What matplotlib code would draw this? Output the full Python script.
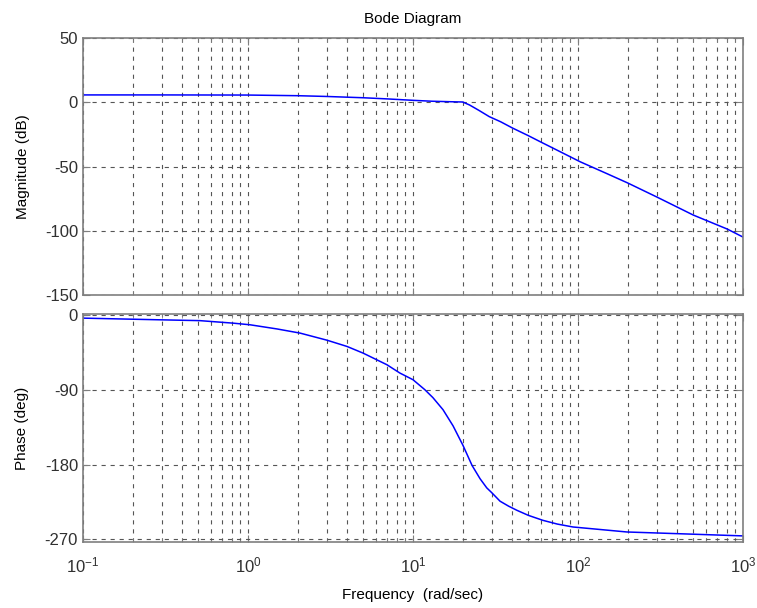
import numpy as np
import matplotlib
matplotlib.use("Agg")
import matplotlib.pyplot as plt
from matplotlib.ticker import LogLocator, NullFormatter, FixedLocator

plt.rcParams["font.family"] = ["Liberation Sans", "DejaVu Sans"]
plt.rcParams["mathtext.fontset"] = "custom"
plt.rcParams["mathtext.rm"] = "Liberation Sans"
plt.rcParams["mathtext.it"] = "Liberation Sans"
plt.rcParams["axes.unicode_minus"] = False
plt.rcParams["lines.scale_dashes"] = False

# Betrag
mag_freq = [0.1, 0.3, 1, 2, 3, 5, 7, 10, 13, 17, 20, 22, 25, 29, 34, 40, 50,
            59, 78, 103, 150, 200, 300, 500, 800, 1000]
mag_db = [5.7, 5.7, 5.6, 5.1, 4.5, 3.5, 2.6, 1.5, 0.8, 0.4, 0.2, -2.1, -6.2,
          -11.2, -15.2, -20.0, -26.0, -30.7, -38.5, -46.3, -55.6, -62.8,
          -73.7, -87.8, -98.6, -104.9]

# Phase
ph_freq = [0.1, 0.29, 0.51, 0.81, 1.03, 1.5, 2.07, 3.01, 3.98, 4.98, 6.95,
           8.33, 10, 11.8, 13.2, 15.2, 17.5, 20.1, 22.8, 25.5, 28, 30.1, 33.7,
           38, 42.7, 50, 61.3, 75, 93.3, 136, 198, 398, 1000]
ph_deg = [-4, -6, -7, -10, -12, -17, -22, -30.5, -38, -46, -60, -70, -78,
          -90, -99.5, -114, -133.5, -157, -181, -197, -208, -214, -224, -230,
          -235, -241, -247, -251.5, -255, -258, -261, -263, -265.7]

mag_ticks = [-150, -100, -50, 0, 50]
ph_ticks = [-270, -180, -90, 0]
x_ticks = [0.1, 1, 10, 100, 1000]
x_labels = ["$10^{-1}$", "$10^{0}$", "$10^{1}$", "$10^{2}$", "$10^{3}$"]

fig = plt.figure(figsize=(7.57, 6.08), dpi=100)
ax1 = fig.add_axes([0.1096, 0.5148, 0.8719, 0.4227])
ax2 = fig.add_axes([0.1096, 0.1086, 0.8719, 0.3750])

frame = "#7f7f7f"
txt = "#303030"

for ax in (ax1, ax2):
    ax.set_xscale("log")
    ax.set_xlim(0.1, 1000)
    ax.xaxis.set_major_locator(FixedLocator(x_ticks))
    ax.xaxis.set_minor_locator(LogLocator(base=10, subs=np.arange(2, 10), numticks=20))
    ax.xaxis.set_minor_formatter(NullFormatter())
    ax.grid(True, which="both", axis="x", color="#555555", linestyle=(0, (3, 3.5)), linewidth=0.8)
    ax.grid(True, which="major", axis="y", color="#555555", linestyle=(0, (3, 3.5)), linewidth=0.8)
    ax.tick_params(which="both", direction="in", top=True, right=True,
                   color=frame, labelcolor=txt, labelsize=12)
    ax.tick_params(which="major", length=5)
    ax.tick_params(which="minor", length=3)
    for s in ax.spines.values():
        s.set_color(frame)
        s.set_linewidth(1.2)

ax1.plot(mag_freq, mag_db, color="#0000ff", linewidth=1.1)
ax1.set_ylim(-150, 50)
ax1.set_yticks(mag_ticks)
ax1.set_xticklabels([])
ax1.set_ylabel("Magnitude (dB)", fontsize=11, color="#000000", labelpad=11)
ax1.set_title("Bode Diagram", fontsize=11, pad=11)

ax2.plot(ph_freq, ph_deg, color="#0000ff", linewidth=1.1)
ax2.set_ylim(-273, 1)
ax2.set_yticks(ph_ticks)
ax2.set_xticklabels(x_labels)
ax2.tick_params(axis="x", pad=10)
ax2.set_ylabel("Phase (deg)", fontsize=11, color="#000000", labelpad=11)
ax2.set_xlabel("Frequency  (rad/sec)", fontsize=11, labelpad=9)

fig.savefig("out.png", dpi=100)
